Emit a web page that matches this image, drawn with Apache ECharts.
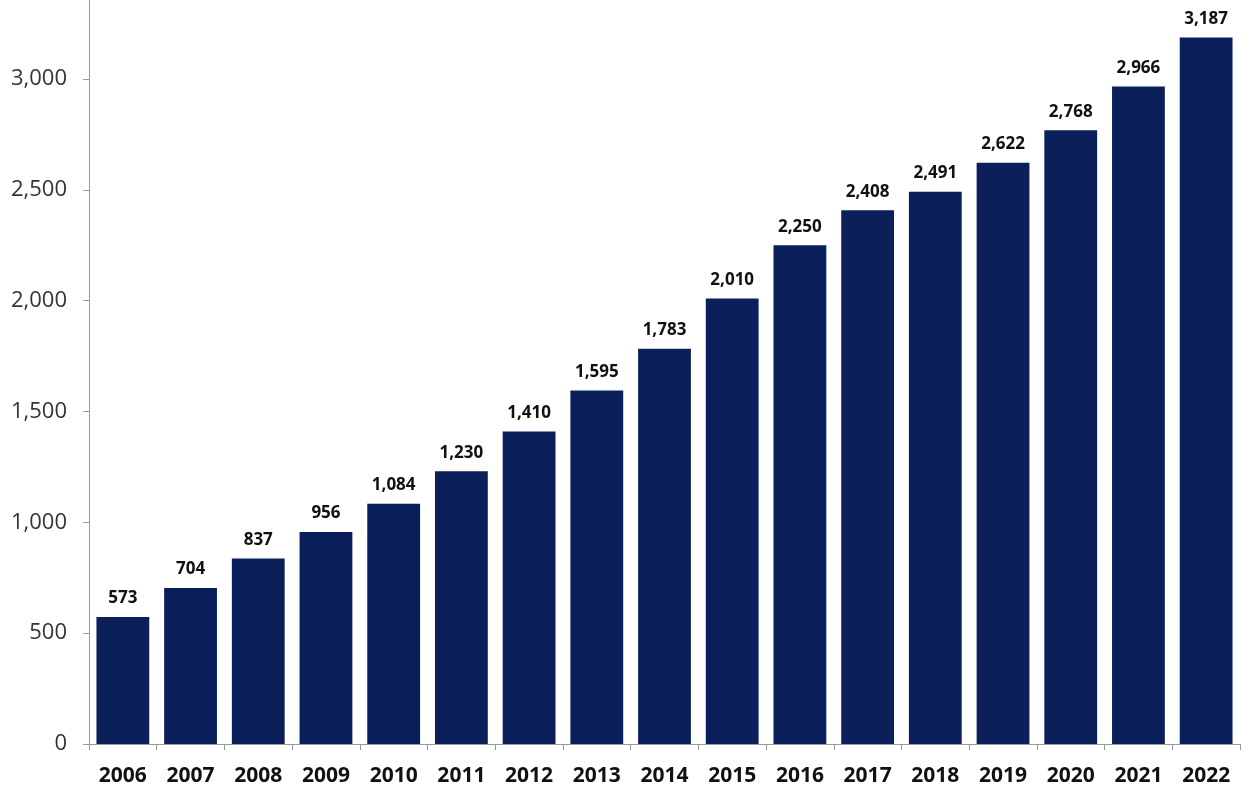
<!DOCTYPE html>
<html>
<head>
<meta charset="utf-8">
<script src="https://cdn.jsdelivr.net/npm/echarts@6/dist/echarts.min.js"></script>
<style>
html,body{margin:0;padding:0;background:#fff;}
#chart{width:1248px;height:794px;}
</style>
</head>
<body>
<div id="chart"></div>
<script>
const years = ['2006','2007','2008','2009','2010','2011','2012','2013','2014','2015','2016','2017','2018','2019','2020','2021','2022'];
const values = [573,704,837,956,1084,1230,1410,1595,1783,2010,2250,2408,2491,2622,2768,2966,3187];

const chart = echarts.init(document.getElementById('chart'));
chart.setOption({
  backgroundColor: '#ffffff',
  animation: false,
  grid: { left: 89, right: 8, top: 0, bottom: 50, containLabel: false },
  xAxis: {
    type: 'category',
    data: years,
    axisLine: { lineStyle: { color: '#9a9a9a', width: 1 } },
    axisTick: { show: true, alignWithLabel: false, length: 6, lineStyle: { color: '#9a9a9a' } },
    axisLabel: { color: '#111', fontFamily: 'Open Sans', fontWeight: 'bold', fontSize: 21, margin: 22 }
  },
  yAxis: {
    type: 'value',
    min: 0,
    max: 3356,
    interval: 500,
    splitLine: { show: false },
    axisLine: { show: true, lineStyle: { color: '#9a9a9a', width: 1 } },
    axisTick: { show: true, length: 6, lineStyle: { color: '#9a9a9a' } },
    axisLabel: {
      color: '#333', fontFamily: 'Open Sans', fontSize: 22, margin: 22,
      showMaxLabel: false,
      formatter: v => (v % 500 === 0 ? v.toLocaleString('en-US') : '')
    }
  },
  series: [{
    type: 'bar',
    data: values,
    barCategoryGap: '22%',
    itemStyle: { color: '#0b1f5a' },
    label: {
      show: true, position: 'top', distance: 10,
      color: '#111', fontFamily: 'Open Sans', fontWeight: 'bold', fontSize: 17,
      formatter: p => p.value.toLocaleString('en-US')
    }
  }]
});
</script>
</body>
</html>
